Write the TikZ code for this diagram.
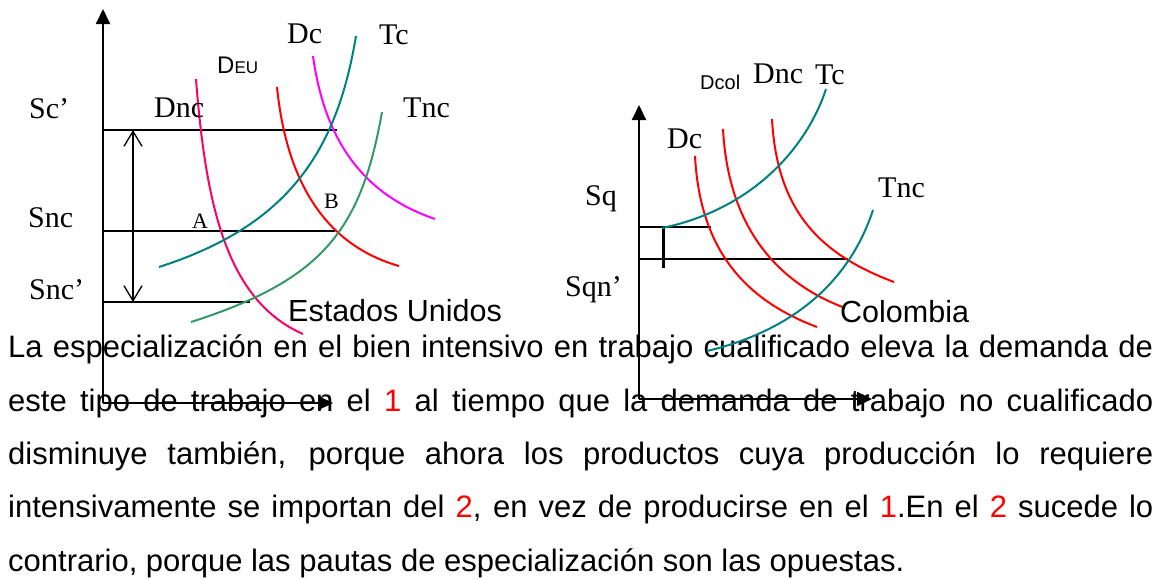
\documentclass[tikz,border=0pt]{standalone}
\usepackage{fontspec}
\setmainfont{Liberation Serif}
\setsansfont{Liberation Sans}
\usetikzlibrary{arrows.meta}
\definecolor{rose_red}{RGB}{255, 0, 102}
\definecolor{pure_red}{RGB}{255, 0, 0}
\definecolor{magenta_pink}{RGB}{255, 0, 255}
\definecolor{teal_curve}{RGB}{0, 128, 128}
\definecolor{sea_green}{RGB}{51, 153, 102}
\def \nred #1{\textcolor{pure_red}{#1}}

\begin{document}
\begin{tikzpicture}[
    x=1pt, y=-1pt,
    axis/.style={
        line width=2pt,
        -{Triangle[length=15pt, width=14pt]}
    },
    guide/.style={
        line width=1.5pt
    },
    spread/.style={
        line width=1.3pt,
        {Straight Barb[length=15pt, width=18pt]}-{Straight Barb[length=15pt, width=18pt]}
    },
    curve/.style={
        line width=2pt,
        draw=#1
    },
    tag/.style={
        anchor=base west,
        inner sep=0pt,
        font=\fontsize{30}{30}\selectfont
    },
    point/.style={
        anchor=base west,
        inner sep=0pt,
        font=\fontsize{22}{22}\selectfont
    },
    country/.style={
        anchor=base west,
        inner sep=0pt,
        font=\sffamily\fontsize{30.5}{30.5}\selectfont
    },
    textline/.style={
        anchor=base west,
        inner sep=0pt,
        font=\sffamily\fontsize{31}{31}\selectfont
    }
]
\useasboundingbox (0,0) rectangle (1159,579);

% Paragraph below the two graphs
\node[textline] (line1) at (8,357) {\makebox[1145pt][s]{La especialización en el bien intensivo en trabajo cualificado eleva la demanda de}};
\node[textline] (line2) at (8,411) {\makebox[1145pt][s]{este tipo de trabajo en el \nred{1} al tiempo que la demanda de trabajo no cualificado}};
\node[textline] (line3) at (8,464) {\makebox[1145pt][s]{disminuye también, porque ahora los productos cuya producción lo requiere}};
\node[textline] (line4) at (8,517) {\makebox[1145pt][s]{intensivamente se importan del \nred{2}, en vez de producirse en el \nred{1}.En el \nred{2} sucede lo}};
\node[textline] (line5) at (8,571) {contrario, porque las pautas de especialización son las opuestas.};

% Estados Unidos: axes
\coordinate (eu_o) at (103,403);
\draw[axis] (eu_o) -- (103,9);
\draw[axis] (eu_o) -- (333,403);

% Estados Unidos: wage levels
\draw[guide] (103,130) -- (337,130);
\draw[guide] (103,231) -- (335,231);
\draw[guide] (103,302) -- (250,302);
\draw[spread] (133,130) -- (133,302);

% Estados Unidos: curves
\draw[curve=rose_red] (196,79) .. controls (206,209) and (228,301) .. (303,334);
\draw[curve=pure_red] (277,87) .. controls (287,187) and (329,246) .. (399,266);
\draw[curve=magenta_pink] (313,56) .. controls (325,143) and (365,195) .. (435,219);
\draw[curve=teal_curve] (159,267) .. controls (290,225) and (337,150) .. (356,36);
\draw[curve=sea_green] (191,322) .. controls (322,280) and (361,231) .. (382,112);

% Estados Unidos: labels
\node[tag] (sc_prime) at (29,118) {Sc’};
\node[tag] (snc) at (28,227) {Snc};
\node[tag] (snc_prime) at (29,299) {Snc’};
\node[tag] (dnc_eu) at (154,117) {Dnc};
\node[tag] (deu) at (217,73) {\sffamily\fontsize{24}{24}\selectfont D\fontsize{17}{17}\selectfont EU};
\node[tag] (dc_eu) at (287,43) {Dc};
\node[tag] (tc_eu) at (379,44) {Tc};
\node[tag] (tnc_eu) at (403,117) {Tnc};
\node[point] (pt_a) at (192,228) {A};
\node[point] (pt_b) at (324,208) {B};
\node[country] (eu) at (288,321) {Estados Unidos};

% Colombia: axes
\coordinate (col_o) at (639,399);
\draw[axis] (col_o) -- (639,105);
\draw[axis] (col_o) -- (872,399);

% Colombia: wage levels
\draw[guide] (639,227) -- (711,227);
\draw[guide] (639,259) -- (848,259);
\draw[line width=3pt] (663,226) -- (663,268);

% Colombia: curves
\draw[curve=pure_red] (695,156) .. controls (700,250) and (745,300) .. (817,327);
\draw[curve=pure_red] (723,129) .. controls (728,223) and (773,281) .. (845,308);
\draw[curve=pure_red] (772,119) .. controls (777,213) and (822,255) .. (894,282);
\draw[curve=teal_curve] (662,228) .. controls (750,210) and (806,150) .. (826,89);
\draw[curve=teal_curve] (707,351) .. controls (795,330) and (850,280) .. (873,210);

% Colombia: labels
\node[tag] (sq) at (585,205) {Sq};
\node[tag] (sqn_prime) at (565,296) {Sqn’};
\node[tag] (dc_col) at (667,148) {Dc};
\node[tag] (dcol) at (700,89) {\sffamily\fontsize{20}{20}\selectfont Dcol};
\node[tag] (dnc_col) at (753,83) {Dnc};
\node[tag] (tc_col) at (815,84) {Tc};
\node[tag] (tnc_col) at (878,197) {Tnc};
\node[country] (col) at (840,322) {Colombia};

\end{tikzpicture}
\end{document}
